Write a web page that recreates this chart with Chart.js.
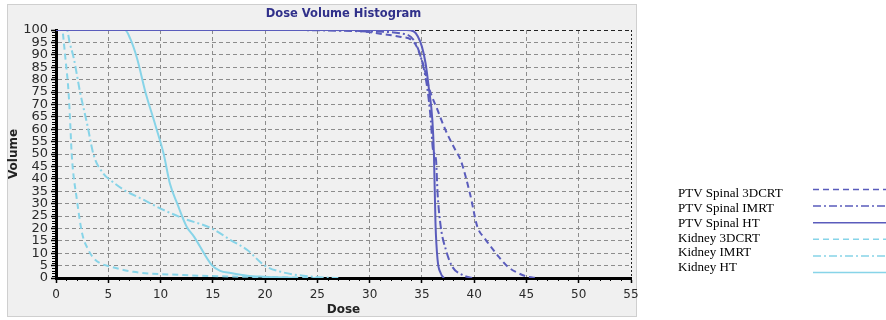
<!DOCTYPE html>
<html>
<head>
<meta charset="utf-8">
<title>Dose Volume Histogram</title>
<script src="https://cdn.jsdelivr.net/npm/chart.js@4.4.1/dist/chart.umd.min.js"></script>
<style>
  html, body { margin: 0; padding: 0; background: #fff; }
  #wrap { width: 886px; height: 320px; }
</style>
</head>
<body>
<div id="wrap"><canvas id="dvh" width="886" height="320"></canvas></div>
<script>
// Series names (legend order)
const seriesNames = [
  "PTV Spinal 3DCRT",
  "PTV Spinal IMRT",
  "PTV Spinal HT",
  "Kidney 3DCRT",
  "Kidney IMRT",
  "Kidney HT"
];

// Axis ticks
const doseTicks = [0, 5, 10, 15, 20, 25, 30, 35, 40, 45, 50, 55];
const volumeTicks = [0, 5, 10, 15, 20, 25, 30, 35, 40, 45, 50, 55, 60, 65, 70, 75, 80, 85, 90, 95, 100];

// Dose / volume points
const ptv3dcrtDose = [0, 25, 29, 31, 33, 34, 34.5, 35.2, 35.65, 36.5, 37.25, 38.2, 38.7, 39.6, 40.3, 41.0, 41.6, 42.4, 43.2, 44.2, 45.1, 46];
const ptv3dcrtVol  = [100, 100, 99.6, 98.5, 97.2, 96, 93.3, 85, 77, 67.7, 59.7, 51.6, 47.6, 34, 20.7, 16, 12.6, 8.3, 4.6, 2, 0.5, 0];

const ptvImrtDose = [0, 22, 30, 33, 34.2, 34.9, 35.5, 35.85, 36.05, 36.35, 36.5, 36.8, 37.3, 37.9, 38.9, 39.8];
const ptvImrtVol  = [100, 100, 99.4, 98.6, 96, 89, 77, 63.7, 52, 47.6, 34.1, 20.7, 11.3, 4.6, 1.2, 0];

const ptvHtDose = [0, 33.5, 34.2, 34.6, 35.0, 35.35, 35.65, 36.0, 36.15, 36.3, 36.5, 36.8, 37.1];
const ptvHtVol  = [100, 100, 99.5, 97.5, 93.3, 86.6, 77, 63.7, 50, 22, 7.3, 1.9, 0];

const kidney3dcrtDose = [0, 0.6, 0.75, 0.9, 1.2, 1.37, 1.5, 2.0, 2.5, 3.1, 3.6, 4.2, 5.2, 7.4, 12.2, 16.7, 21.5, 25];
const kidney3dcrtVol  = [100, 100, 95, 88.6, 75, 61.7, 50, 31.5, 18, 11.3, 8, 6, 4.6, 2.5, 1.2, 0.6, 0.3, 0];

const kidneyImrtDose = [0, 1.05, 1.3, 1.7, 2.3, 3.0, 3.6, 4.55, 5.2, 6.5, 8.4, 10, 12.2, 14.9, 16.7, 18.3, 19.9, 21.5, 24.6, 27];
const kidneyImrtVol  = [100, 100, 95, 88.6, 75, 61.7, 49.6, 42, 39.5, 35.5, 31.5, 28, 24, 20, 15.3, 11.3, 5.2, 2.5, 0.5, 0];

const kidneyHtDose = [0, 6.6, 7.1, 7.75, 8.55, 9.5, 10.3, 10.9, 11.6, 12.5, 13.2, 14.9, 15.7, 16.7, 18.3, 19.9, 23];
const kidneyHtVol  = [100, 100, 96.5, 88.6, 75, 61.7, 50, 38, 30, 20.7, 16.7, 5.2, 2.9, 2, 0.9, 0.5, 0];


function pts(dose, vol) {
  return dose.map((d, i) => ({ x: d, y: vol[i] }));
}

const ptvColor = "#5a5cbc";
const kidneyColor = "#87d4e8";
const dashed = [6, 4];
const dashDot = [8, 3, 2, 3];

const datasets = [
  { label: seriesNames[0], data: pts(ptv3dcrtDose, ptv3dcrtVol), borderColor: ptvColor, borderDash: dashed },
  { label: seriesNames[1], data: pts(ptvImrtDose, ptvImrtVol), borderColor: ptvColor, borderDash: dashDot },
  { label: seriesNames[2], data: pts(ptvHtDose, ptvHtVol), borderColor: ptvColor, borderDash: [] },
  { label: seriesNames[3], data: pts(kidney3dcrtDose, kidney3dcrtVol), borderColor: kidneyColor, borderDash: dashed },
  { label: seriesNames[4], data: pts(kidneyImrtDose, kidneyImrtVol), borderColor: kidneyColor, borderDash: dashDot },
  { label: seriesNames[5], data: pts(kidneyHtDose, kidneyHtVol), borderColor: kidneyColor, borderDash: [] }
];


// grey panel behind the chart
const panelBg = {
  id: "panelBg",
  beforeDraw(chart) {
    const ctx = chart.ctx;
    ctx.save();
    ctx.fillStyle = "#f0f0f0";
    ctx.fillRect(7, 4, 630, 313);
    ctx.strokeStyle = "#cfcfcf";
    ctx.lineWidth = 1;
    ctx.strokeRect(7.5, 4.5, 629, 312);
    ctx.restore();
  }
};

// small minor ticks on both axes
const minorTicks = {
  id: "minorTicks",
  beforeDatasetsDraw(chart) {
    const { ctx, chartArea, scales } = chart;
    ctx.save();
    ctx.strokeStyle = "#000";
    ctx.lineWidth = 1;
    ctx.beginPath();
    for (let v = 1; v < 100; v++) {
      if (v % 5 === 0) continue;
      const y = Math.round(scales.y.getPixelForValue(v)) + 0.5;
      ctx.moveTo(chartArea.left - 4, y);
      ctx.lineTo(chartArea.left, y);
    }
    for (let v = 1; v < 55; v++) {
      if (v % 5 === 0) continue;
      const x = Math.round(scales.x.getPixelForValue(v)) + 0.5;
      ctx.moveTo(x, chartArea.bottom);
      ctx.lineTo(x, chartArea.bottom + 3);
    }
    ctx.stroke();
    ctx.restore();
  }
};

// legend on the right: name first, line sample after
const sideLegend = {
  id: "sideLegend",
  afterDraw(chart) {
    const ctx = chart.ctx;
    ctx.save();
    chart.data.datasets.forEach((ds, i) => {
      ctx.font = '13px "Liberation Serif", "Times New Roman", serif';
      ctx.fillStyle = "#000";
      ctx.textAlign = "left";
      ctx.textBaseline = "middle";
      ctx.fillText(ds.label, 678, 194 + i * 14.7);

      const ly = 189.5 + i * 16.6;
      ctx.strokeStyle = ds.borderColor;
      ctx.lineWidth = 1.5;
      ctx.setLineDash(ds.borderDash);
      ctx.beginPath();
      ctx.moveTo(813, ly);
      ctx.lineTo(886, ly);
      ctx.stroke();
    });
    ctx.restore();
  }
};


const ctx = document.getElementById("dvh").getContext("2d");

const dvhChart = new Chart(ctx, {
  type: "line",
  data: { datasets: datasets },
  plugins: [panelBg, minorTicks, sideLegend],
  options: {
    responsive: false,
    devicePixelRatio: 1,
    animation: false,
    layout: { padding: { left: 7, right: 255, top: 0, bottom: 0 } },
    elements: {
      point: { radius: 0 },
      line: { borderWidth: 2, cubicInterpolationMode: "monotone", fill: false }
    },
    plugins: {
      legend: { display: false },
      tooltip: { enabled: false },
      title: {
        display: true,
        text: "Dose Volume Histogram",
        fullSize: false,
        color: "#30308a",
        font: { family: "DejaVu Sans", size: 11.5, weight: "bold" },
        padding: { top: 7, bottom: 9.2 }
      }
    },
    scales: {
      x: {
        type: "linear",
        min: 0,
        max: 55,
        afterBuildTicks: (s) => { s.ticks = doseTicks.map((v) => ({ value: v })); },
        afterFit: (s) => { s.height = 42; },
        ticks: {
          color: "#2a2a2a",
          font: { family: "DejaVu Sans", size: 12 },
          padding: 5,
          maxRotation: 0,
          autoSkip: false
        },
        grid: {
          color: (c) => (c.tick && c.tick.value === 55 ? "#222" : "#8c8c8c"),
          lineWidth: 1,
          tickLength: 5,
          tickColor: "#000",
          tickWidth: 1.5
        },
        border: {
          color: "#000",
          width: 3,
          dash: (c) => (c.tick && c.tick.value === 55 ? [2, 2] : [4, 3])
        },
        title: {
          display: true,
          text: "Dose",
          color: "#222",
          font: { family: "DejaVu Sans", size: 12, weight: "bold" },
          padding: { top: 0, bottom: 2.8 }
        }
      },
      y: {
        type: "linear",
        min: 0,
        max: 100,
        afterBuildTicks: (s) => { s.ticks = volumeTicks.map((v) => ({ value: v })); },
        afterFit: (s) => { s.width = 49; },
        ticks: {
          color: "#2a2a2a",
          font: { family: "DejaVu Sans", size: 13 },
          padding: 3,
          autoSkip: false
        },
        grid: {
          color: (c) => (c.tick && c.tick.value === 100 ? "#222" : "#8c8c8c"),
          lineWidth: 1,
          tickLength: 5,
          tickColor: "#000",
          tickWidth: 1.5
        },
        border: {
          color: "#000",
          width: 3,
          dash: [4, 3]
        },
        title: {
          display: true,
          text: "Volume",
          color: "#222",
          font: { family: "DejaVu Sans", size: 12, weight: "bold" },
          padding: { top: 0, bottom: 0 }
        }
      }
    }
  }
});
</script>
</body>
</html>
